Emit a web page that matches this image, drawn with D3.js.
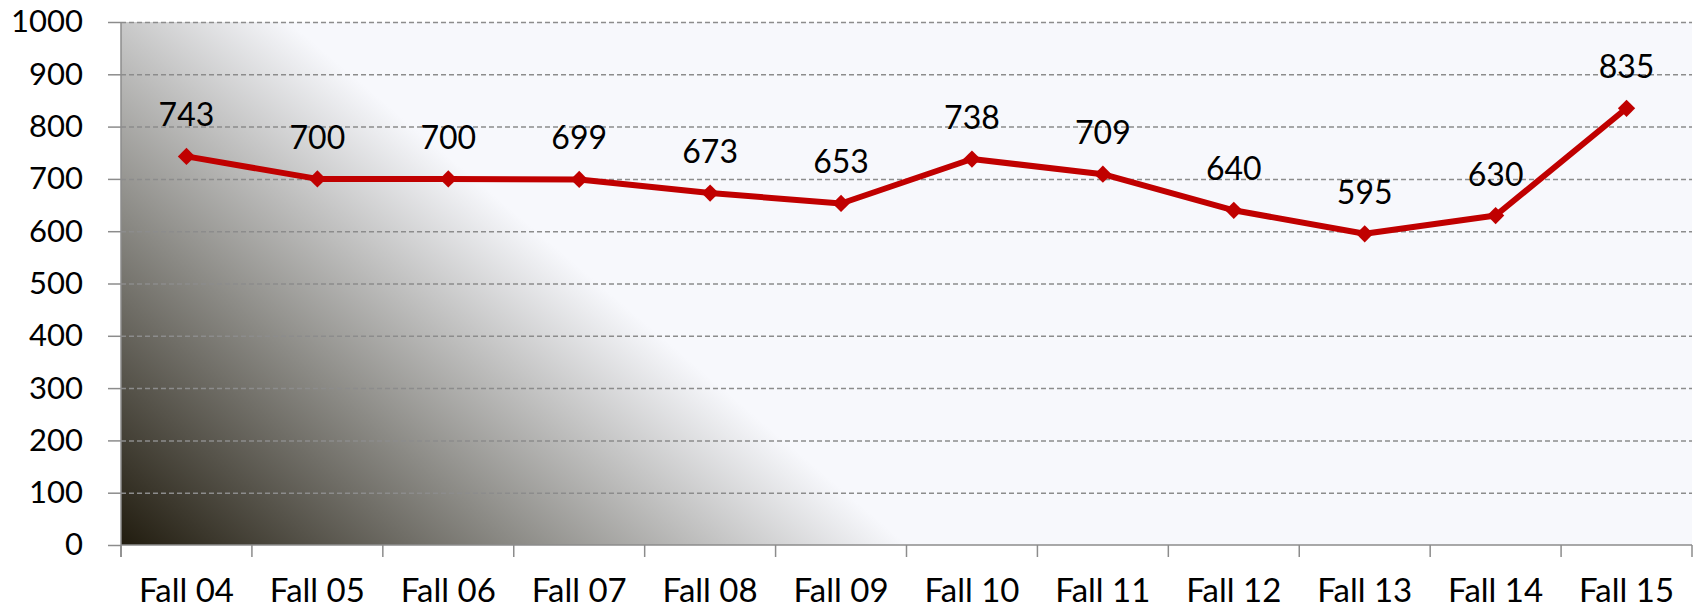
<!DOCTYPE html>
<html>
<head>
<meta charset="utf-8">
<script src="https://d3js.org/d3.v7.min.js"></script>
<style>
  body { margin: 0; background: #fff; }
  svg { display: block; font-family: "Lato", "Open Sans", sans-serif; }
  .grid line { stroke: #8c8c8c; stroke-width: 1.5px; stroke-dasharray: 5 3; }
  .grid path { display: none; }
  .axis path, .axis line { stroke: #8c8c8c; stroke-width: 1.5px; }
  .axis text { fill: #000; font-size: 31px; font-family: "Lato", "Open Sans", sans-serif; }
  .xaxis text { font-size: 33px; }
</style>
</head>
<body>
<svg id="chart" width="1696" height="613"></svg>
<script>
// chart values
var terms = ["Fall 04", "Fall 05", "Fall 06", "Fall 07", "Fall 08", "Fall 09",
             "Fall 10", "Fall 11", "Fall 12", "Fall 13", "Fall 14", "Fall 15"];
var counts = [743, 700, 700, 699, 673, 653, 738, 709, 640, 595, 630, 835];
var yTicks = [0, 100, 200, 300, 400, 500, 600, 700, 800, 900, 1000];

var plotL = 121, plotR = 1692, plotT = 22, plotB = 545;

var svg = d3.select("#chart");

var x = d3.scaleBand().domain(terms).range([plotL, plotR]);
var y = d3.scaleLinear().domain([0, 1000]).range([plotB, plotT]);

// plot background + diagonal shading
var defs = svg.append("defs");
var grad = defs.append("linearGradient")
    .attr("id", "shade")
    .attr("gradientUnits", "userSpaceOnUse")
    .attr("x1", plotL).attr("y1", plotB)
    .attr("x2", 449).attr("y2", 157);
grad.append("stop").attr("offset", "0%").attr("stop-color", "#211c0f");
grad.append("stop").attr("offset", "50%").attr("stop-color", "#8b8a85");
grad.append("stop").attr("offset", "100%").attr("stop-color", "#f7f8fc");

svg.append("rect")
    .attr("x", plotL).attr("y", plotT)
    .attr("width", plotR - plotL).attr("height", plotB - plotT)
    .attr("fill", "#f7f8fc");
svg.append("rect")
    .attr("x", plotL).attr("y", plotT)
    .attr("width", plotR - plotL).attr("height", plotB - plotT)
    .attr("fill", "url(#shade)");

// dashed gridlines
svg.append("g")
    .attr("class", "grid")
    .attr("transform", "translate(" + plotL + ",0)")
    .call(d3.axisLeft(y).tickValues(yTicks.slice(1)).tickSize(-(plotR - plotL)).tickFormat(""));

// y axis
var yAxis = svg.append("g")
    .attr("class", "axis")
    .attr("transform", "translate(" + plotL + ",0)")
    .call(d3.axisLeft(y).tickValues(yTicks).tickSize(13).tickPadding(25)
      .tickSizeOuter(0).tickFormat(d3.format("d")));
yAxis.select(".domain").attr("d", "M0," + plotT + "V" + (plotB + 12));

// x axis: ticks at band edges
var xAxis = svg.append("g")
    .attr("class", "axis xaxis")
    .attr("transform", "translate(0," + plotB + ")")
    .call(d3.axisBottom(x).tickSize(0).tickPadding(34).tickSizeOuter(0));
xAxis.select(".domain").attr("d", "M" + plotL + ",0H" + plotR);
xAxis.selectAll(".edge")
    .data(d3.range(terms.length + 1))
    .enter().append("line")
    .attr("x1", function(i) { return plotL + i * x.step(); })
    .attr("x2", function(i) { return plotL + i * x.step(); })
    .attr("y1", 0).attr("y2", 12);

// line
var line = d3.line()
    .x(function(d, i) { return x(terms[i]) + x.bandwidth() / 2; })
    .y(function(d) { return y(d); });

svg.append("path")
    .attr("d", line(counts))
    .attr("fill", "none")
    .attr("stroke", "#c00000")
    .attr("stroke-width", 6)
    .attr("stroke-linejoin", "round");

svg.selectAll(".marker")
    .data(counts)
    .enter().append("path")
    .attr("class", "marker")
    .attr("d", d3.symbol().type(d3.symbolDiamond2).size(190))
    .attr("transform", function(d, i) {
      return "translate(" + (x(terms[i]) + x.bandwidth() / 2) + "," + y(d) + ")";
    })
    .attr("fill", "#c00000");

// value labels
svg.selectAll(".val")
    .data(counts)
    .enter().append("text")
    .attr("class", "val")
    .attr("x", function(d, i) { return x(terms[i]) + x.bandwidth() / 2; })
    .attr("y", function(d) { return y(d) - 30; })
    .attr("text-anchor", "middle")
    .style("font-size", "32px")
    .text(function(d) { return d; });
</script>
</body>
</html>
